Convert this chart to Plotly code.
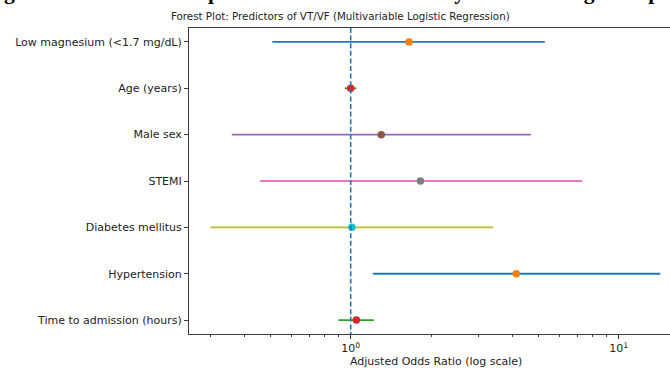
import math
import plotly.graph_objects as go

# ---- data ----
predictors = [
    "Low magnesium (<1.7 mg/dL)",
    "Age (years)",
    "Male sex",
    "STEMI",
    "Diabetes mellitus",
    "Hypertension",
    "Time to admission (hours)",
]
odds_ratio = [1.65, 1.00, 1.30, 1.82, 1.01, 4.15, 1.05]
ci_low = [0.51, 0.95, 0.36, 0.46, 0.30, 1.21, 0.90]
ci_high = [5.3, 1.05, 4.7, 7.3, 3.4, 14.3, 1.22]
x_tick_vals = [1, 10]
x_tick_text = ["10<sup>0</sup>", "10<sup>1</sup>"]
x_minor_vals = [0.3, 0.4, 0.5, 0.6, 0.7, 0.8, 0.9, 2, 3, 4, 5, 6, 7, 8, 9]
reference_or = 1.0

caption = "Figure 6: Incidence and pattern of ventricular arrhythmias among AMI patients"
title = "Forest Plot: Predictors of VT/VF (Multivariable Logistic Regression)"
x_label = "Adjusted Odds Ratio (log scale)"

# ---- style ----
palette = ["#1f77b4", "#ff7f0e", "#2ca02c", "#d62728", "#9467bd",
           "#8c564b", "#e377c2", "#7f7f7f", "#bcbd22", "#17becf"]
W, H = 670, 369
L, R, T, B = 189, 0, 28, 35
axis_col = "#3c3c3c"
text_col = "#222222"
font = "DejaVu Sans"

# log-axis range so that 10^0 sits at x=350.7 px, one decade = 268 px
decade = 268.0
x_left = (L - 350.7) / decade
x_right = x_left + (W - L - R) / decade

fig = go.Figure()
ci = 0
ypos = list(range(len(predictors)))
for i in ypos:
    fig.add_trace(go.Scatter(
        x=[ci_low[i], ci_high[i]], y=[i, i], mode="lines",
        line=dict(color=palette[ci % 10], width=1.8),
        showlegend=False, hoverinfo="skip"))
    ci += 1
    fig.add_trace(go.Scatter(
        x=[odds_ratio[i]], y=[i], mode="markers",
        marker=dict(color=palette[ci % 10], size=7.5, line=dict(width=0)),
        showlegend=False))
    ci += 1

# reference line at OR = 1 (drawn on top, like matplotlib axvline)
fig.add_trace(go.Scatter(
    x=[reference_or, reference_or], y=[-0.3, len(predictors) - 0.7], mode="lines",
    line=dict(color=palette[0], width=1.6, dash="5px,2.6px"),
    showlegend=False, hoverinfo="skip"))

fig.update_layout(
    width=W, height=H,
    margin=dict(l=L, r=R, t=T, b=B, pad=0, autoexpand=False),
    paper_bgcolor="white", plot_bgcolor="white",
    font=dict(family=font, size=11, color=text_col),
    xaxis=dict(
        type="log", range=[x_left, x_right], automargin=False,
        tickvals=x_tick_vals, ticktext=x_tick_text,
        ticks="outside", ticklen=4, tickwidth=1, tickcolor=axis_col,
        showline=True, linecolor=axis_col, linewidth=1, mirror=True,
        showgrid=False, zeroline=False,
        tickfont=dict(family=font, size=11, color=text_col),
        minor=dict(tickvals=x_minor_vals, ticks="outside", ticklen=2,
                   tickwidth=1, tickcolor=axis_col, showgrid=False),
    ),
    yaxis=dict(
        range=[len(predictors) - 0.7, -0.3], automargin=False,
        tickvals=ypos, ticktext=predictors,
        ticks="outside", ticklen=4, tickwidth=1, tickcolor=axis_col,
        showline=True, linecolor=axis_col, linewidth=1, mirror=False,
        showgrid=False, zeroline=False,
        tickfont=dict(family=font, size=11, color=text_col),
    ),
)

pw = W - L - R
ph = H - T - B


def px_x(px):
    return (px - L) / pw


def px_y(py):
    return (H - B - py) / ph


# cropped caption at the very top (only its lower half is visible)
fig.add_annotation(
    text="<b>" + caption + "</b>", xref="paper", yref="paper",
    x=px_x(-17), y=px_y(-7.5), xanchor="left", yanchor="middle",
    showarrow=False,
    font=dict(family="Liberation Serif", size=21.5, color="black"))

# chart title
fig.add_annotation(
    text=title, xref="paper", yref="paper",
    x=px_x(340), y=px_y(16), xanchor="center", yanchor="middle",
    showarrow=False, font=dict(family=font, size=10.3, color=text_col))

# x-axis label
fig.add_annotation(
    text=x_label, xref="paper", yref="paper",
    x=px_x(435.5), y=px_y(362), xanchor="center", yanchor="middle",
    showarrow=False, font=dict(family=font, size=11, color=text_col))

fig.write_html(
    "out.html",
    config={"displayModeBar": False},
    post_script="document.body.style.margin='0';document.body.style.overflow='hidden';",
)
